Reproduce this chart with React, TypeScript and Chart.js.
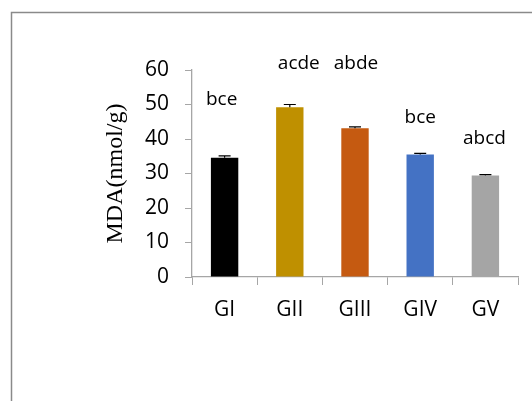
import React, { useEffect, useRef } from "react";
import { Chart, registerables } from "chart.js";

Chart.register(...registerables);

const categories = ["GI", "GII", "GIII", "GIV", "GV"];
const mdaValues = [34.6, 49.2, 43.1, 35.5, 29.4];
const mdaErrors = [0.5, 0.8, 0.4, 0.35, 0.3];
const barColors = ["#000000", "#BF9000", "#C55A11", "#4472C4", "#A5A5A5"];
const letterLabels = ["bce", "acde", "abde", "bce", "abcd"];
const letterLevels = [51.3, 62.0, 62.0, 46.1, 40.0];
const yTicks = [0, 10, 20, 30, 40, 50, 60];

const letterOffsetsPx = [-3, 9, 1, 0, -1];

const extrasPlugin = {
  id: "extras",
  beforeDraw(chart: any) {
    const ctx = chart.ctx;
    ctx.save();
    ctx.strokeStyle = "#8A8A8A";
    ctx.lineWidth = 1.5;
    ctx.beginPath();
    ctx.moveTo(11.5, chart.height + 2);
    ctx.lineTo(11.5, 12.5);
    ctx.lineTo(chart.width + 2, 12.5);
    ctx.stroke();
    ctx.restore();
  },
  afterDatasetsDraw(chart: any) {
    const ctx = chart.ctx;
    const meta = chart.getDatasetMeta(0);
    const y = chart.scales.y;
    ctx.save();
    ctx.strokeStyle = "#000000";
    ctx.lineWidth = 1.2;
    meta.data.forEach((bar: any, i: number) => {
      const top = y.getPixelForValue(mdaValues[i] + mdaErrors[i]);
      const base = y.getPixelForValue(mdaValues[i]);
      ctx.beginPath();
      ctx.moveTo(bar.x, base);
      ctx.lineTo(bar.x, top);
      ctx.moveTo(bar.x - 6, top);
      ctx.lineTo(bar.x + 6, top);
      ctx.stroke();
    });
    ctx.fillStyle = "#000000";
    ctx.font = "19px 'Open Sans'";
    ctx.textAlign = "center";
    ctx.textBaseline = "middle";
    meta.data.forEach((bar: any, i: number) => {
      ctx.fillText(letterLabels[i], bar.x + letterOffsetsPx[i], y.getPixelForValue(letterLevels[i]));
    });
    ctx.restore();
  },
};

export default function App() {
  const ref = useRef<HTMLCanvasElement | null>(null);
  useEffect(() => {
    document.body.style.margin = "0";
    const chart = new Chart(ref.current as HTMLCanvasElement, {
      type: "bar",
      data: {
        labels: categories,
        datasets: [
          {
            data: mdaValues,
            backgroundColor: barColors,
            borderWidth: 0,
            barPercentage: 0.42,
            categoryPercentage: 1,
          },
        ],
      },
      options: {
        responsive: false,
        animation: false,
        devicePixelRatio: 1,
        layout: { padding: { left: 0, top: 70, right: 14, bottom: 64 } },
        plugins: { legend: { display: false }, tooltip: { enabled: false } },
        scales: {
          x: {
            grid: {
              display: true,
              drawOnChartArea: false,
              drawTicks: true,
              tickLength: 8,
              color: "#A6A6A6",
              offset: true,
            },
            border: { display: true, color: "#A6A6A6", width: 1.3 },
            ticks: {
              color: "#000000",
              font: { family: "'Open Sans'", size: 21 },
              padding: 12,
              maxRotation: 0,
            },
            afterFit(scale: any) {
              scale.height = 60;
            },
          },
          y: {
            min: 0,
            max: 60,
            afterBuildTicks(scale: any) {
              scale.ticks = yTicks.map((v) => ({ value: v }));
            },
            grid: {
              display: true,
              drawOnChartArea: false,
              drawTicks: true,
              tickLength: 7,
              color: "#A6A6A6",
            },
            border: { display: true, color: "#A6A6A6", width: 1.3 },
            ticks: {
              color: "#000000",
              font: { family: "'Open Sans'", size: 21 },
              padding: 16,
            },
            title: {
              display: true,
              text: "MDA(nmol/g)",
              color: "#000000",
              font: { family: "Liberation Serif", size: 24 },
              padding: { top: 101, bottom: 0 },
            },
            afterFit(scale: any) {
              scale.width = 192;
            },
          },
        },
      },
      plugins: [extrasPlugin],
    });
    return () => chart.destroy();
  }, []);
  return (
    <div style={{ width: 532, height: 401 }}>
      <canvas ref={ref} width={532} height={401} style={{ display: "block" }} />
    </div>
  );
}
